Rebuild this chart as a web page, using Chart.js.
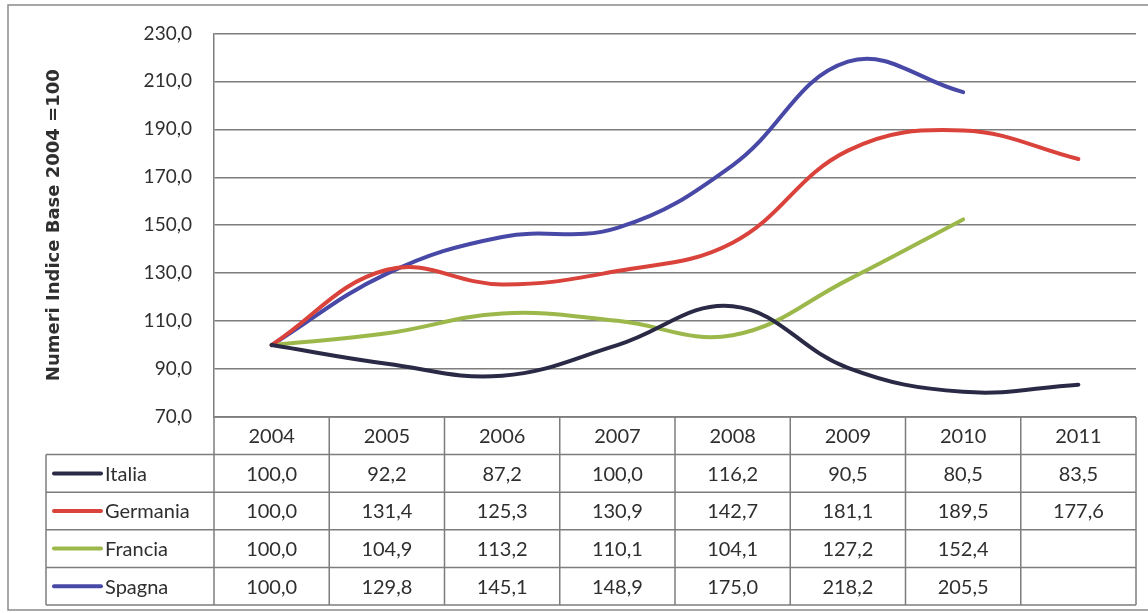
<!DOCTYPE html>
<html>
<head>
<meta charset="utf-8">
<script src="https://cdn.jsdelivr.net/npm/chart.js@4/dist/chart.umd.min.js"></script>
<style>
  html, body { margin: 0; padding: 0; background: #ffffff; }
  #wrap { position: relative; width: 1148px; height: 613px; }
  canvas { display: block; }
</style>
</head>
<body>
<div id="wrap"><canvas id="c" width="1148" height="613"></canvas></div>
<script>
// Categories (years) and index numbers, base 2004 = 100
const years    = ['2004', '2005', '2006', '2007', '2008', '2009', '2010', '2011'];
const italia   = [100.0, 92.2, 87.2, 100.0, 116.2, 90.5, 80.5, 83.5];
const germania = [100.0, 131.4, 125.3, 130.9, 142.7, 181.1, 189.5, 177.6];
const francia  = [100.0, 104.9, 113.2, 110.1, 104.1, 127.2, 152.4, null];
const spagna   = [100.0, 129.8, 145.1, 148.9, 175.0, 218.2, 205.5, null];

const seriesNames  = ['Italia', 'Germania', 'Francia', 'Spagna'];
const seriesColors = ['#2a2a46', '#d9433b', '#9cb84a', '#4848a6'];
const seriesValues = [italia, germania, francia, spagna];

const yMin = 70, yMax = 230, yStep = 20;
const axisTitle = 'Numeri Indice Base 2004 =100';

const TEXT = '#2f2f2f';
const RULE = '#7d7d7d';
const FONT = 'Lato, "Liberation Sans", sans-serif';

const fmt = v => v.toFixed(1).replace('.', ',');

// Data table drawn under the plot, aligned with the category scale
const dataTable = {
  id: 'dataTable',
  afterDraw(chart) {
    const ctx = chart.ctx;
    const xs = chart.scales.x;
    const area = chart.chartArea;
    const n = years.length;
    const colW = (area.right - area.left) / n;
    const top = area.bottom;
    const rowH = 37.6;
    const legendLeft = 46;
    const bottom = top + rowH * 5;

    ctx.save();
    ctx.strokeStyle = RULE;
    ctx.lineWidth = 1.5;
    ctx.beginPath();
    // header top rule
    ctx.moveTo(area.left, top); ctx.lineTo(area.right, top);
    // body row rules
    for (let k = 1; k <= 5; k++) {
      ctx.moveTo(legendLeft, top + rowH * k);
      ctx.lineTo(area.right, top + rowH * k);
    }
    // legend column left edge
    ctx.moveTo(legendLeft, top + rowH); ctx.lineTo(legendLeft, bottom);
    // column separators
    for (let i = 0; i <= n; i++) {
      const x = area.left + colW * i;
      ctx.moveTo(x, top); ctx.lineTo(x, bottom);
    }
    ctx.stroke();

    ctx.fillStyle = TEXT;
    ctx.font = '20px ' + FONT;
    ctx.textAlign = 'center';
    ctx.textBaseline = 'middle';
    years.forEach((y, i) => {
      ctx.fillText(y, xs.getPixelForValue(i), top + rowH / 2 + 1);
    });

    seriesNames.forEach((name, r) => {
      const cy = top + rowH * (r + 1) + rowH / 2;
      // legend key
      ctx.strokeStyle = seriesColors[r];
      ctx.lineWidth = 4;
      ctx.lineCap = 'round';
      ctx.beginPath();
      ctx.moveTo(54, cy); ctx.lineTo(101, cy);
      ctx.stroke();
      ctx.fillStyle = TEXT;
      ctx.textAlign = 'left';
      ctx.fillText(name, 105, cy + 1);
      ctx.textAlign = 'center';
      seriesValues[r].forEach((v, i) => {
        if (v === null) return;
        ctx.fillText(fmt(v), xs.getPixelForValue(i), cy + 1);
      });
    });

    // outer frame
    ctx.strokeStyle = '#8a8a8a';
    ctx.lineWidth = 1.5;
    ctx.beginPath();
    ctx.moveTo(1148, 5); ctx.lineTo(8, 5); ctx.lineTo(8, 610); ctx.lineTo(1148, 610);
    ctx.stroke();
    ctx.restore();
  }
};

new Chart(document.getElementById('c'), {
  type: 'line',
  data: {
    labels: years,
    datasets: seriesNames.map((name, i) => ({
      label: name,
      data: seriesValues[i],
      borderColor: seriesColors[i],
      backgroundColor: seriesColors[i],
      borderWidth: 4,
      borderCapStyle: 'round',
      pointRadius: 0,
      pointHoverRadius: 0,
      tension: 0.4,
      fill: false,
      spanGaps: false
    }))
  },
  options: {
    responsive: false,
    animation: false,
    events: [],
    layout: { padding: { top: 32, right: 12, bottom: 0, left: 0 } },
    plugins: {
      legend: { display: false },
      tooltip: { enabled: false },
      title: { display: false }
    },
    scales: {
      x: {
        type: 'category',
        offset: true,
        afterFit: s => { s.height = 196; },
        ticks: { display: false },
        grid: { display: false },
        border: { display: false }
      },
      y: {
        min: yMin,
        max: yMax,
        afterFit: s => { s.width = 214; },
        ticks: {
          stepSize: yStep,
          padding: 22,
          color: TEXT,
          font: { family: FONT, size: 19 },
          callback: v => fmt(v)
        },
        grid: { color: RULE, lineWidth: 1.5, drawTicks: false },
        border: { display: true, color: RULE, width: 1.5 },
        title: {
          display: true,
          text: axisTitle,
          color: TEXT,
          font: { family: '"DejaVu Sans", sans-serif', size: 18, weight: 'bold' },
          padding: { top: 44, bottom: 0 }
        }
      }
    }
  },
  plugins: [dataTable]
});
</script>
</body>
</html>
